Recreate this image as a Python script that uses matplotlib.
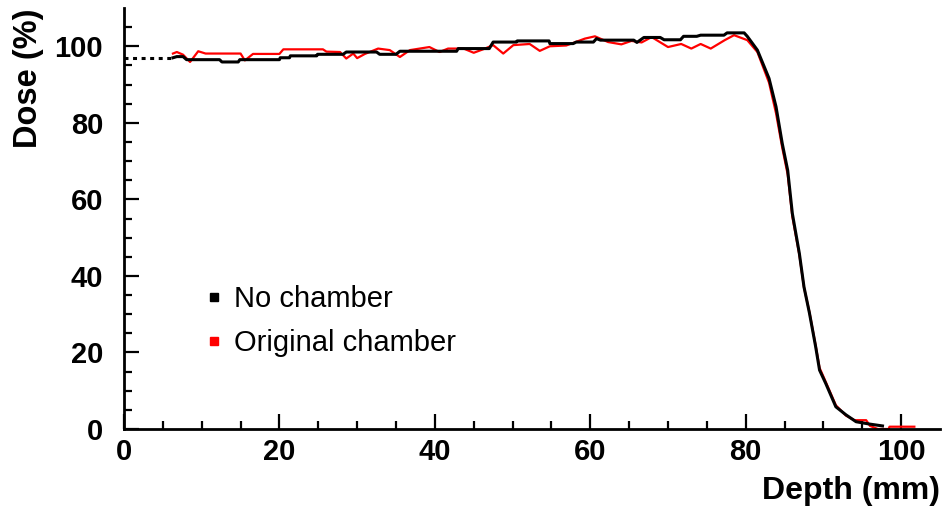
import numpy as np
import matplotlib
matplotlib.use('Agg')
import matplotlib.pyplot as plt
from matplotlib.lines import Line2D

plt.rcParams['font.family'] = ['Liberation Sans', 'DejaVu Sans']

# depth (mm) / dose (%)
no_chamber_x = [6.3, 6.8, 7.6, 8.05, 12.3, 12.6, 14.7, 14.9, 20.0, 20.1, 21.3, 21.4, 24.8, 24.9,
                28.2, 28.6, 32.5, 32.9, 35.0, 35.5, 42.8, 43.0, 47.0, 47.5, 50.5, 50.6, 54.7,
                54.8, 57.8, 58.2, 60.4, 60.8, 61.3, 65.6, 66.0, 66.9, 69.0, 69.5, 71.6, 72.0,
                73.7, 74.2, 77.2, 77.6, 79.8, 80.2, 81.5, 83.0, 83.9, 84.7, 85.4, 86.0, 86.9,
                87.5, 88.2, 89.0, 89.5, 90.3, 91.6, 92.9, 94.2, 95.9, 97.6]
no_chamber_y = [97.0, 97.3, 97.3, 96.5, 96.5, 95.9, 95.9, 96.5, 96.5, 97.0, 97.0, 97.5, 97.5, 97.9,
                97.9, 98.5, 98.5, 97.9, 97.9, 98.7, 98.7, 99.4, 99.4, 101.1, 101.1, 101.4, 101.4,
                100.7, 100.7, 101.1, 101.1, 102.0, 101.6, 101.6, 101.0, 102.3, 102.3, 101.7, 101.7,
                102.6, 102.6, 102.9, 102.9, 103.5, 103.5, 102.6, 99.0, 91.6, 84.2, 74.6, 67.6,
                56.3, 45.9, 37.1, 30.3, 21.5, 15.4, 11.9, 5.8, 3.7, 1.9, 1.3, 0.8]

original_x = [6.3, 6.8, 7.6, 8.5, 9.55, 10.5, 15.0, 15.55, 16.6, 20.0, 20.5, 25.6, 26.05, 27.8,
              28.6, 29.5, 30.0, 31.0, 32.7, 34.2, 35.5, 36.8, 39.3, 40.6, 41.7, 43.7, 45.0,
              46.2, 47.5, 48.8, 50.1, 52.2, 53.5, 54.8, 56.9, 59.3, 60.6, 62.3, 64.0, 65.3,
              66.6, 67.9, 70.0, 71.7, 73.0, 74.2, 75.5, 77.3, 78.5, 80.2, 81.5, 83.0, 83.9,
              84.7, 85.4, 86.0, 86.9, 87.5, 88.2, 89.0, 89.5, 90.3, 91.6, 92.9, 94.0, 95.5,
              96.0, 97.0, 98.4, 98.5, 101.7]
original_y = [98.1, 98.5, 97.8, 95.9, 98.7, 98.1, 98.1, 96.3, 98.0, 98.0, 99.2, 99.2, 98.6, 98.5,
              96.8, 98.1, 96.9, 98.0, 99.4, 99.0, 97.2, 99.0, 99.8, 98.5, 99.4, 99.4, 98.3,
              99.2, 100.3, 98.1, 100.3, 100.6, 98.8, 100.0, 100.2, 102.0, 102.6, 101.1, 100.5,
              101.4, 101.0, 102.4, 99.8, 100.6, 99.4, 100.6, 99.4, 101.6, 102.9, 101.6, 98.5,
              90.5, 82.5, 73.5, 66.5, 55.5, 45.5, 37.0, 30.5, 21.8, 16.0, 12.3, 6.2, 3.5, 2.3,
              2.3, 0.8, 0.0, 0.0, 0.6, 0.6]

# extrapolation marker before the first measured point
dotted_x = [0.0, 6.3]
dotted_y = [97.0, 97.0]

legend_labels = ['No chamber', 'Original chamber']

W, H = 942, 512
fig = plt.figure(figsize=(W / 100, H / 100), dpi=100)
ax = fig.add_axes([124 / W, 1 - 429 / H, (940 - 124) / W, (429 - 8) / H])

ax.plot(original_x, original_y, color='red', lw=1.6, zorder=2)
ax.plot(no_chamber_x, no_chamber_y, color='black', lw=2.2, zorder=3)
ax.plot(dotted_x, dotted_y, color='black', lw=2.2, ls=(0, (1.3, 1.5)), zorder=3)

ax.set_xlim(0, 105)
ax.set_ylim(0, 110)
ax.set_xticks(np.arange(0, 101, 20))
ax.set_yticks(np.arange(0, 101, 20))
ax.set_xticks(np.arange(0, 105, 5), minor=True)
ax.set_yticks(np.arange(0, 110, 5), minor=True)

for s in ['top', 'right']:
    ax.spines[s].set_visible(False)
for s in ['left', 'bottom']:
    ax.spines[s].set_linewidth(2.0)

ax.tick_params(which='major', direction='in', length=11, width=1.6)
ax.tick_params(which='minor', direction='in', length=5.5, width=1.6)
ax.tick_params(axis='y', which='both', pad=15)
ax.tick_params(axis='x', which='both', pad=6.5)
for lab in ax.get_xticklabels() + ax.get_yticklabels():
    lab.set_fontsize(21)
    lab.set_fontweight('bold')

fig.text(28 / W, 1 - 8 / H, 'Dose (%)', rotation=90, ha='center', va='top',
         fontsize=23.5, fontweight='bold')
fig.text(940 / W, 1 - 491 / H, 'Depth (mm)', ha='right', va='center',
         fontsize=23, fontweight='bold')

handles = [Line2D([], [], ls='none', marker='s', ms=6, color='black'),
           Line2D([], [], ls='none', marker='s', ms=6, color='red')]
ax.legend(handles, legend_labels, loc='upper left', frameon=False,
          bbox_to_anchor=(205 / W, 1 - 285 / H), bbox_transform=fig.transFigure,
          fontsize=21, handlelength=0.6, handletextpad=0.4, labelspacing=0.55,
          borderpad=0, borderaxespad=0)

fig.savefig('out.png', dpi=100)
